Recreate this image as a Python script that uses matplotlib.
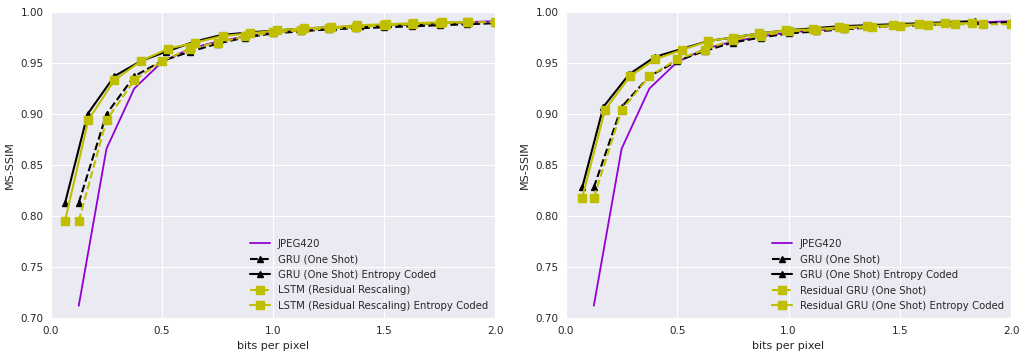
import numpy as np
import matplotlib
matplotlib.use('Agg')
import matplotlib.pyplot as plt
import seaborn as sns

sns.set_style('darkgrid')

# bit rates of the one shot / non entropy coded runs
bpp = [0.125, 0.25, 0.375, 0.5, 0.625, 0.75, 0.875, 1.0,
       1.125, 1.25, 1.375, 1.5, 1.625, 1.75, 1.875, 2.0]

jpeg_ssim = [0.712, 0.866, 0.925, 0.951, 0.964, 0.971, 0.976, 0.980,
             0.982, 0.984, 0.986, 0.987, 0.988, 0.989, 0.990, 0.991]

# --- left panel ---
gru_ssim_l = [0.813, 0.900, 0.937, 0.952, 0.961, 0.969, 0.975, 0.979,
              0.981, 0.983, 0.984, 0.985, 0.986, 0.987, 0.988, 0.989]
gru_ec_bpp_l = [0.063, 0.165, 0.285, 0.405, 0.518, 0.646, 0.769, 0.896,
                1.02, 1.145, 1.27, 1.39, 1.51, 1.635, 1.76, 1.88]
gru_ec_ssim_l = [0.8125, 0.900, 0.937, 0.952, 0.961, 0.971, 0.9775, 0.980,
                 0.982, 0.984, 0.985, 0.986, 0.987, 0.988, 0.989, 0.990]
lstm_ssim = [0.795, 0.894, 0.933, 0.952, 0.964, 0.970, 0.976, 0.980,
             0.982, 0.984, 0.985, 0.987, 0.988, 0.989, 0.990, 0.990]
lstm_ec_bpp = [0.063, 0.168, 0.285, 0.405, 0.528, 0.649, 0.773, 0.896,
               1.02, 1.14, 1.26, 1.38, 1.51, 1.63, 1.76, 1.88]
lstm_ec_ssim = [0.795, 0.894, 0.933, 0.952, 0.964, 0.970, 0.9765, 0.979,
                0.982, 0.984, 0.985, 0.987, 0.988, 0.989, 0.990, 0.990]

# --- right panel ---
gru_ssim_r = [0.828, 0.907, 0.937, 0.952, 0.962, 0.970, 0.975, 0.979,
              0.981, 0.983, 0.985, 0.986, 0.987, 0.988, 0.989, 0.990]
gru_ec_bpp_r = [0.073, 0.168, 0.284, 0.40, 0.523, 0.64, 0.749, 0.869,
                0.99, 1.11, 1.228, 1.351, 1.471, 1.598, 1.718, 1.838]
gru_ec_ssim_r = [0.828, 0.907, 0.939, 0.956, 0.964, 0.9716, 0.975, 0.979,
                 0.982, 0.984, 0.986, 0.987, 0.988, 0.989, 0.990, 0.991]
res_ssim = [0.818, 0.904, 0.937, 0.9536, 0.963, 0.973, 0.9765, 0.981,
            0.982, 0.984, 0.985, 0.986, 0.987, 0.988, 0.988, 0.988]
res_ec_bpp = [0.073, 0.175, 0.288, 0.40, 0.523, 0.64, 0.749, 0.869,
              0.99, 1.11, 1.228, 1.351, 1.471, 1.588, 1.703, 1.823]
res_ec_ssim = [0.818, 0.904, 0.937, 0.9536, 0.963, 0.9716, 0.975, 0.979,
               0.982, 0.983, 0.985, 0.986, 0.987, 0.988, 0.989, 0.989]

purple = '#9400d3'
yellow = '#bfbf00'

fig = plt.figure(figsize=(10.25, 3.58), dpi=100)
ax1 = fig.add_axes([51/1025, 40/358, 444/1025, 306/358])
ax2 = fig.add_axes([566/1025, 40/358, 445/1025, 306/358])


def draw(ax, gru_y, gru_ec_x, gru_ec_y, y1, x2, y2, name):
    ax.plot(bpp, jpeg_ssim, color=purple, lw=1.3, label='JPEG420')
    ax.plot(bpp, gru_y, color='k', ls='--', lw=1.5, marker='^', ms=5,
            label='GRU (One Shot)')
    ax.plot(gru_ec_x, gru_ec_y, color='k', lw=1.5, marker='^', ms=5,
            label='GRU (One Shot) Entropy Coded')
    ax.plot(bpp, y1, color=yellow, ls='--', lw=1.5, marker='s', ms=6,
            label=name)
    ax.plot(x2, y2, color=yellow, lw=1.5, marker='s', ms=6,
            label=name + ' Entropy Coded')
    ax.set_xlim(0, 2.0)
    ax.set_ylim(0.70, 1.00)
    ax.set_xticks([0.0, 0.5, 1.0, 1.5, 2.0])
    ax.set_yticks(np.arange(0.70, 1.001, 0.05))
    ax.tick_params(labelsize=7.5, pad=2)
    ax.set_xlabel('bits per pixel', fontsize=8)
    ax.set_ylabel('MS-SSIM', fontsize=8)
    ax.legend(loc='lower right', fontsize=7.3, frameon=False,
              handlelength=1.9, borderaxespad=0.3, labelspacing=0.55)


draw(ax1, gru_ssim_l, gru_ec_bpp_l, gru_ec_ssim_l, lstm_ssim, lstm_ec_bpp,
     lstm_ec_ssim, 'LSTM (Residual Rescaling)')
draw(ax2, gru_ssim_r, gru_ec_bpp_r, gru_ec_ssim_r, res_ssim, res_ec_bpp,
     res_ec_ssim, 'Residual GRU (One Shot)')

fig.savefig('out.png', dpi=100)
